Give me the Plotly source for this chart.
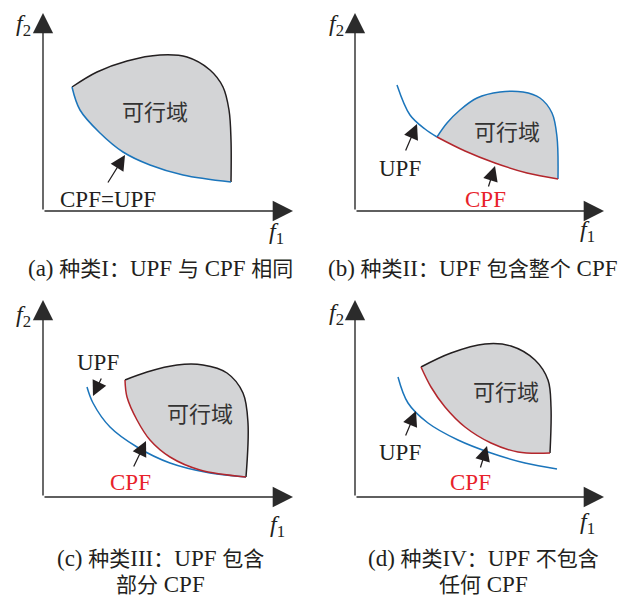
import plotly.graph_objects as go

# ---------------- data (control points in figure pixel units) ----------------
# Panel (a)
a_axis = dict(origin=(43, 211), ytip=(43, 13), xtip=(293, 211))
a_bottom_x = [72, 80, 100, 123, 150, 183, 231]
a_bottom_y = [87, 110, 133, 152, 165, 175, 182]
a_top_x = [72, 97, 127, 160, 187, 210, 223, 229, 231, 231]
a_top_y = [87, 72, 61, 55, 57, 70, 87, 110, 140, 182]

# Panel (b)
b_axis = dict(origin=(355, 211), ytip=(355, 13), xtip=(604, 211))
b_upf_x = [397, 410, 425, 437]
b_upf_y = [85, 115, 129, 137]
b_cpf_x = [437, 465, 495, 527, 558]
b_cpf_y = [137, 151, 163, 173, 179]
b_top_x = [437, 447, 460, 477, 500, 523, 540, 552, 557, 558]
b_top_y = [137, 123, 110, 98, 92, 92, 98, 113, 137, 179]

# Panel (c)
c_axis = dict(origin=(43, 497), ytip=(43, 300), xtip=(293, 497))
c_upf_x = [87, 93, 110, 137, 170, 210, 246]
c_upf_y = [387, 403, 427, 447, 463, 473, 477]
c_cpf_x = [125, 127, 137, 150, 170, 200, 246]
c_cpf_y = [380, 397, 420, 440, 457, 470, 477]
c_top_x = [125, 147, 177, 203, 227, 243, 248, 246]
c_top_y = [380, 372, 365, 365, 373, 393, 423, 477]

# Panel (d)
d_axis = dict(origin=(355, 497), ytip=(355, 300), xtip=(604, 497))
d_upf_x = [398, 408, 428, 458, 491, 525, 557]
d_upf_y = [377, 403, 423, 440, 453, 463, 469]
d_cpf_x = [421, 431, 445, 465, 491, 518, 550]
d_cpf_y = [367, 387, 407, 427, 443, 452, 453]
d_top_x = [421, 451, 485, 511, 535, 548, 551, 550]
d_top_y = [367, 353, 344, 346, 360, 380, 407, 453]

region_label = "可行域"
region_pos = [(155, 110), (507, 130), (200, 412), (506, 390)]
f2_pos = [(23, 25), (336, 25), (23, 316), (336, 314)]
f1_pos = [(276, 233), (587, 231), (277, 526), (587, 523)]

# (text, x, y, color)
text_labels = [
    ("CPF=UPF", 108, 199, "black"),
    ("UPF", 400, 168, "black"),
    ("CPF", 485, 199, "red"),
    ("UPF", 98, 362, "black"),
    ("CPF", 130, 482, "red"),
    ("UPF", 400, 452, "black"),
    ("CPF", 470, 482, "red"),
]
# pointer arrows: (tail_x, tail_y, tip_x, tip_y)
pointers = [
    (107, 184, 125, 155),
    (405, 152, 417, 124),
    (488, 188, 495, 166),
    (102, 377, 93, 396),
    (133, 468, 146, 441),
    (405, 437, 416, 411),
    (480, 469, 487, 446),
]
# captions: list of (segments, x, y); CJK segments flagged with 1
captions = [
    ([("(a) ", 0), ("种类", 1), ("I", 0), ("：", 1), ("UPF ", 0), ("与", 1), (" CPF ", 0), ("相同", 1)], 160, 267),
    ([("(b) ", 0), ("种类", 1), ("II", 0), ("：", 1), ("UPF ", 0), ("包含整个", 1), (" CPF", 0)], 473, 267),
    ([("(c) ", 0), ("种类", 1), ("III", 0), ("：", 1), ("UPF ", 0), ("包含", 1)], 160, 557),
    ([("部分", 1), (" CPF", 0)], 160, 583),
    ([("(d) ", 0), ("种类", 1), ("IV", 0), ("：", 1), ("UPF ", 0), ("不包含", 1)], 483, 557),
    ([("任何", 1), (" CPF", 0)], 483, 583),
]

# ---------------- styles ----------------
BLUE = "#1b75bb"
DARKRED = "#b3262c"
LABELRED = "#e8232a"
BLACK = "#231f20"
GRAY = "#d3d4d6"
SERIF = "Liberation Serif, Noto Serif CJK SC, Noto Sans CJK SC, serif"
CJK = "Noto Sans CJK SC"
PAGE_OFFSET = 8  # default body margin of the html page

fig = go.Figure()


def region(bx, by, tx, ty):
    fig.add_trace(go.Scatter(x=bx, y=by, mode="lines",
                             line=dict(width=0, shape="spline"),
                             hoverinfo="skip", showlegend=False))
    fig.add_trace(go.Scatter(x=tx, y=ty, mode="lines",
                             line=dict(width=0, shape="spline"),
                             fill="tonexty", fillcolor=GRAY,
                             hoverinfo="skip", showlegend=False))


def curve(x, y, color):
    fig.add_trace(go.Scatter(x=x, y=y, mode="lines",
                             line=dict(width=1.5, color=color, shape="spline"),
                             hoverinfo="skip", showlegend=False))


region(a_bottom_x, a_bottom_y, a_top_x, a_top_y)
region(b_cpf_x, b_cpf_y, b_top_x, b_top_y)
region(c_cpf_x, c_cpf_y, c_top_x, c_top_y)
region(d_cpf_x, d_cpf_y, d_top_x, d_top_y)

curve(a_top_x, a_top_y, BLACK)
curve(a_bottom_x, a_bottom_y, BLUE)
curve(b_upf_x, b_upf_y, BLUE)
curve(b_top_x, b_top_y, BLUE)
curve(b_cpf_x, b_cpf_y, DARKRED)
curve(c_upf_x, c_upf_y, BLUE)
curve(c_top_x, c_top_y, BLACK)
curve(c_cpf_x, c_cpf_y, DARKRED)
curve(d_upf_x, d_upf_y, BLUE)
curve(d_top_x, d_top_y, BLACK)
curve(d_cpf_x, d_cpf_y, DARKRED)

ann = []
for ax_ in (a_axis, b_axis, c_axis, d_axis):
    ox, oy = ax_["origin"]
    for tip in (ax_["ytip"], ax_["xtip"]):
        ann.append(dict(x=tip[0], y=tip[1], ax=ox, ay=oy, xref="x", yref="y",
                        axref="x", ayref="y", text="", showarrow=True,
                        arrowhead=2, arrowsize=2.9, arrowwidth=1.4,
                        arrowcolor="#2b2b2b"))
for (tx0, ty0, tx1, ty1) in pointers:
    ann.append(dict(x=tx1, y=ty1, ax=tx0, ay=ty0, xref="x", yref="y",
                    axref="x", ayref="y", text="", showarrow=True,
                    arrowhead=2, arrowsize=2.4, arrowwidth=1.25,
                    arrowcolor=BLACK))

for (x, y) in region_pos:
    ann.append(dict(x=x, y=y, xref="x", yref="y", text=region_label,
                    showarrow=False, font=dict(family=CJK, size=22, color="#333333")))
for (x, y) in f2_pos:
    ann.append(dict(x=x, y=y, xref="x", yref="y", text="<i>f</i><sub>2</sub>",
                    showarrow=False, font=dict(family=SERIF, size=24, color=BLACK)))
for (x, y) in f1_pos:
    ann.append(dict(x=x, y=y, xref="x", yref="y", text="<i>f</i><sub>1</sub>",
                    showarrow=False, font=dict(family=SERIF, size=24, color=BLACK)))
for (t, x, y, c) in text_labels:
    ann.append(dict(x=x, y=y, xref="x", yref="y", text=t, showarrow=False,
                    font=dict(family=SERIF, size=23,
                              color=LABELRED if c == "red" else BLACK)))
for (segs, x, y) in captions:
    html = "".join(
        f"<span style=\"font-size:21px;font-family:'{CJK}'\">{s}</span>" if cjk else s
        for s, cjk in segs)
    ann.append(dict(x=x, y=y, xref="x", yref="y", text=html, showarrow=False,
                    font=dict(family=SERIF, size=23, color=BLACK)))

fig.update_layout(
    width=637, height=597,
    margin=dict(l=0, r=0, t=0, b=0),
    paper_bgcolor="white", plot_bgcolor="white",
    xaxis=dict(range=[PAGE_OFFSET, 637 + PAGE_OFFSET], visible=False, fixedrange=True),
    yaxis=dict(range=[597 + PAGE_OFFSET, PAGE_OFFSET], visible=False, fixedrange=True),
    annotations=ann,
    showlegend=False,
)

fig.write_html("out.html")
